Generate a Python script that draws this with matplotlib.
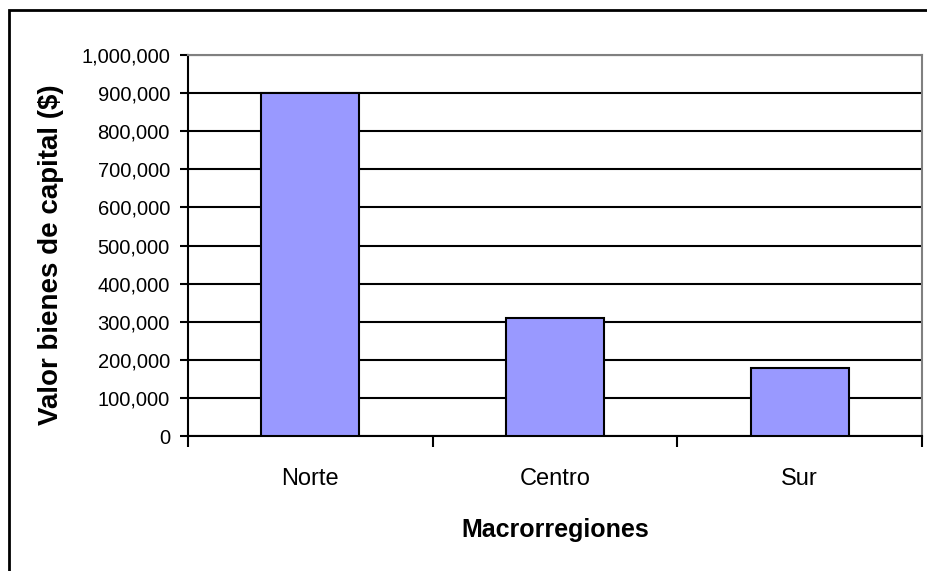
import matplotlib.pyplot as plt
import matplotlib.ticker as mplticker
from matplotlib.patches import Rectangle

# Data
regions = ["Norte", "Centro", "Sur"]
capital_values = [900000, 309000, 178000]

plt.rcParams["font.family"] = ["Liberation Sans", "DejaVu Sans"]

W, H = 927, 571
fig = plt.figure(figsize=(W / 100, H / 100), dpi=100)
ax = fig.add_axes([188 / W, 1 - 436 / H, (922 - 188) / W, (436 - 55) / H])

ax.bar(range(len(regions)), capital_values, width=0.4, color="#9999ff",
       edgecolor="black", linewidth=1.5, zorder=3)

ax.set_xlim(-0.5, len(regions) - 0.5)
ax.set_ylim(0, 1000000)
ax.yaxis.set_major_locator(mplticker.MultipleLocator(100000))
ax.yaxis.set_major_formatter(mplticker.StrMethodFormatter("{x:,.0f}"))
ax.yaxis.grid(True, color="black", linewidth=1.5, zorder=1)

# category labels between boundary ticks
ax.set_xticks([i - 0.5 for i in range(len(regions) + 1)])
ax.set_xticklabels([])
ax.set_xticks(range(len(regions)), minor=True)
ax.set_xticklabels(regions, minor=True, fontsize=17)
ax.tick_params(axis="x", which="minor", length=0, pad=23)
ax.tick_params(axis="x", which="major", length=8, width=1.5, direction="out")
ax.tick_params(axis="y", length=6, width=1.5, direction="out", labelsize=14.5, pad=7)

for side in ["top", "right"]:
    ax.spines[side].set_color("#808080")
    ax.spines[side].set_linewidth(1.5)
for side in ["left", "bottom"]:
    ax.spines[side].set_linewidth(1.5)

ax.set_xlabel("Macrorregiones", fontsize=18, fontweight="bold", va="baseline")
ax.xaxis.set_label_coords(0.5, (436 - 537) / 381)
ax.set_ylabel("Valor bienes de capital ($)", fontsize=20, fontweight="bold", va="center")
ax.yaxis.set_label_coords((51 - 188) / 734, (436 - 254.5) / 381)

# outer chart border (partially cut off at right and bottom)
fig.patches.append(Rectangle((9 / W, -0.5), 2, 1.5 - 10 / H, transform=fig.transFigure,
                             fill=False, edgecolor="black", linewidth=2, clip_on=False))

fig.savefig("out.png", dpi=100)
